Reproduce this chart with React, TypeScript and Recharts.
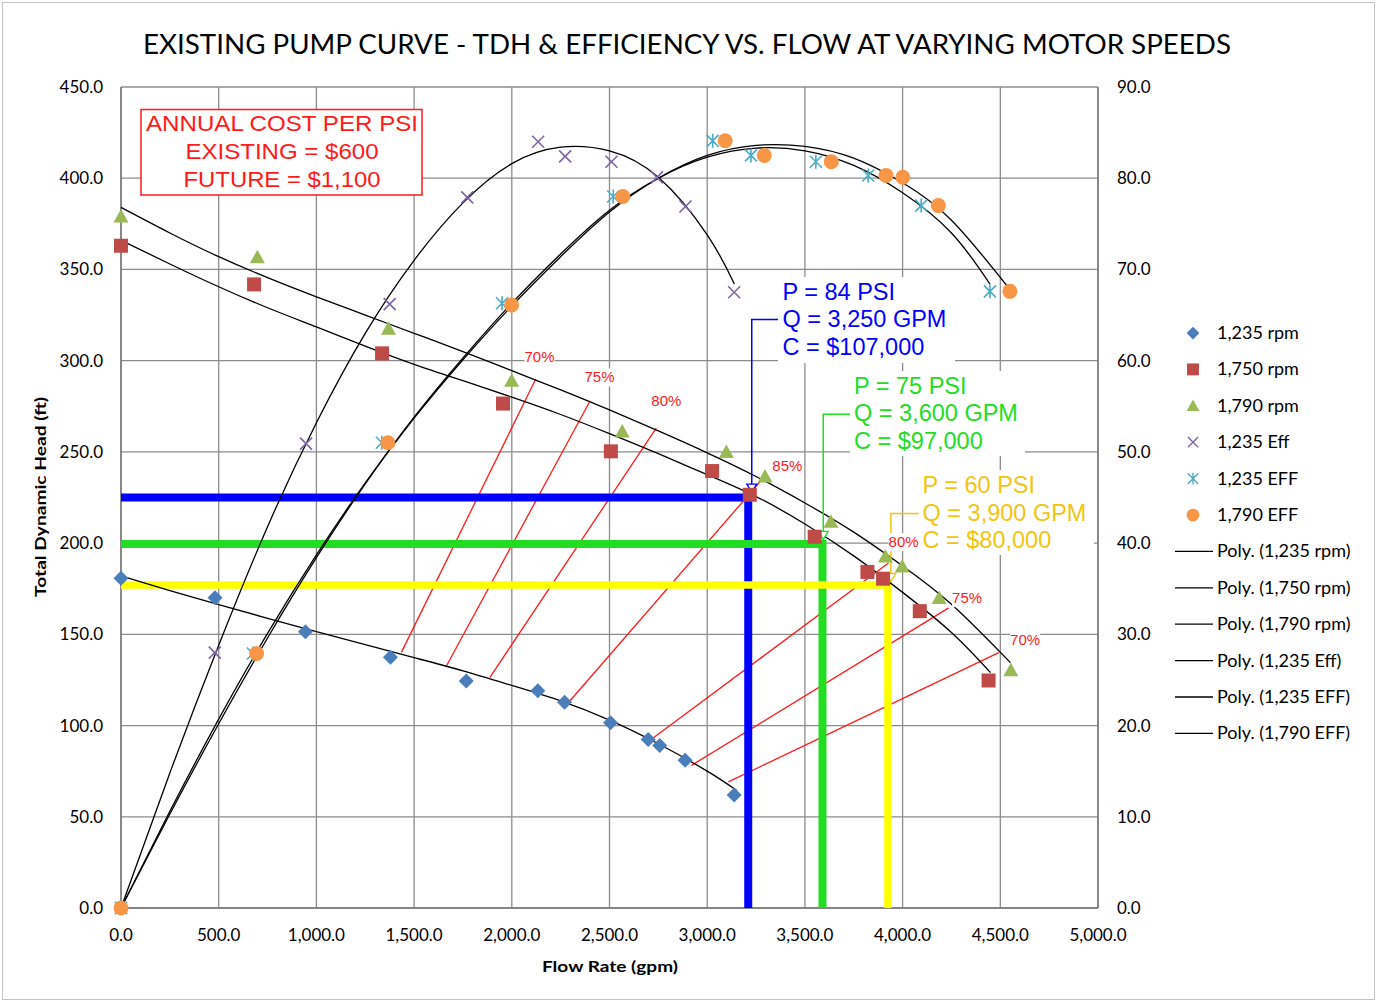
import React from 'react';
import { ScatterChart, Scatter, XAxis, YAxis, CartesianGrid } from 'recharts';

type Pt = { x: number; y: number; t?: string };
const toPts = (a: number[][]): Pt[] => a.map(([x, y]) => ({ x, y }));

const xTicks = [0, 500, 1000, 1500, 2000, 2500, 3000, 3500, 4000, 4500, 5000];
const headTicks = [0, 50, 100, 150, 200, 250, 300, 350, 400, 450];
const effTicks = [0, 10, 20, 30, 40, 50, 60, 70, 80, 90];

// measured pump points: [flow gpm, head ft]
const rpm1235 = [[0, 180.7], [481, 170], [944, 151.4], [1379, 137.4], [1767, 124.4], [2133, 119.1], [2270, 112.8], [2505, 101.5], [2698, 92.3], [2757, 89], [2887, 81], [3138, 62]];
const rpm1750 = [[0, 363], [681, 341.8], [1336, 304], [1955, 276.5], [2507, 250.3], [3025, 239.5], [3218, 226.5], [3550, 203.5], [3820, 184.2], [3900, 180.5], [4088, 162.7], [4440, 124.7]];
const rpm1790 = [[0, 379], [698, 356.7], [1369, 317.5], [1999, 289], [2565, 261.2], [3098, 250], [3296, 236.5], [3633, 211.7], [3912, 192.6], [3998, 187.2], [4187, 169.9], [4554, 130.3]];

// efficiency points: [flow gpm, efficiency %]
const eff1235 = [[0, 0], [480, 28], [947, 50.9], [1375, 66.2], [1772, 77.9], [2135, 84.0], [2273, 82.4], [2510, 81.8], [2743, 80.1], [2889, 76.9], [3138, 67.5]];
const eff1235b = [[0, 0], [675, 27.9], [1335, 51], [1950, 66.3], [2519, 78.0], [3028, 84.1], [3224, 82.5], [3556, 81.8], [3824, 80.3], [4095, 77.0], [4447, 67.6]];
const eff1790 = [[0, 0], [694, 27.9], [1366, 51], [1999, 66.1], [2568, 78.0], [3092, 84.1], [3292, 82.5], [3635, 81.8], [3915, 80.3], [4001, 80.1], [4183, 77.0], [4549, 67.6]];

// trend curves
const poly1235 = [[0, 182], [250, 174], [500, 166.3], [750, 158.8], [1000, 151.5], [1250, 144.3], [1500, 137.2], [1750, 130], [2000, 122], [2250, 113.5], [2500, 103], [2750, 90], [3000, 75], [3150, 64.5]];
const poly1750 = [[0, 366], [250, 353], [500, 340.5], [750, 329], [1000, 318.5], [1250, 308], [1500, 298], [1750, 289], [2000, 280], [2250, 270.5], [2500, 260], [2750, 249], [3000, 237.5], [3250, 225.5], [3500, 210.5], [3750, 193], [4000, 173], [4250, 151], [4450, 129]];
const poly1790 = [[0, 384], [250, 370], [500, 357], [750, 345.5], [1000, 335], [1250, 325], [1500, 315], [1750, 305], [2000, 294.5], [2250, 284], [2500, 273], [2750, 261.5], [3000, 249.5], [3250, 236.5], [3500, 222], [3750, 206], [4000, 187.5], [4250, 166.5], [4552, 134.5]];
const polyEff1235 = [[0, 0], [250, 14.8], [500, 28.8], [750, 41.8], [1000, 53.2], [1250, 63.0], [1500, 71.0], [1750, 77.3], [2000, 81.6], [2250, 83.4], [2500, 83.0], [2750, 80.1], [3000, 73.8], [3139, 68.4]];
const polyEff1235b = [[0, 0], [250, 10.3], [500, 20.2], [750, 29.6], [1000, 38.4], [1250, 46.5], [1500, 53.8], [1750, 60.3], [2000, 66.3], [2250, 71.7], [2500, 76.5], [2750, 80.0], [3000, 82.3], [3250, 83.3], [3500, 83.0], [3750, 81.4], [4000, 78.4], [4250, 74.0], [4447, 68.4]];
const polyEff1790 = [[0, 0], [250, 10.6], [500, 20.7], [750, 30.1], [1000, 38.7], [1250, 46.6], [1500, 53.7], [1750, 60.1], [2000, 66.0], [2250, 71.4], [2500, 76.3], [2750, 80.0], [3000, 82.5], [3250, 83.6], [3500, 83.5], [3750, 82.2], [4000, 79.5], [4250, 75.4], [4549, 67.8]];

// iso-efficiency lines: [flow, head] start and end
const isoLines = [
  [[1435, 140.1], [2122, 289.8]],
  [[1666, 132.8], [2401, 278]],
  [[1888, 126.4], [2739, 263]],
  [[2298, 113.6], [3281, 234.9]],
  [[2706, 91.8], [3928, 189.1]],
  [[2920, 78.2], [4236, 164.5]],
  [[3108, 69.1], [4492, 140]],
];
const isoLabels: Pt[] = [
  { x: 2142, y: 301.8, t: '70%' },
  { x: 2449, y: 290.8, t: '75%' },
  { x: 2791, y: 277.7, t: '80%' },
  { x: 3410, y: 242.1, t: '85%' },
  { x: 4005, y: 200.6, t: '80%' },
  { x: 4330, y: 169.8, t: '75%' },
  { x: 4627, y: 146.8, t: '70%' },
];

// operating points
const blueOp = [[0, 225], [3210, 225], [3210, 0]];
const greenOp = [[0, 199.5], [3590, 199.5], [3590, 0]];
const yellowOp = [[0, 177], [3925, 177], [3925, 0]];
const blueLeader = [[3367, 322.5], [3228, 322.5], [3228, 232]];
const greenLeader = [[3736, 270.6], [3594, 270.6], [3594, 206]];
const yellowLeader = [[4083, 216.2], [3940, 216.2], [3940, 183]];
const blueTip = [[3228, 228]];
const greenTip = [[3594, 202]];
const yellowTip = [[3940, 179]];

const BLUE = '#0000ff';
const GREEN = '#22dd22';
const YELLOW = '#f2c511';
const RED = '#ff1a1a';

const fmt = (v: number) => v.toLocaleString('en-US', { minimumFractionDigits: 1, maximumFractionDigits: 1 });

const Diamond = (p: any) => (
  <path d={`M${p.cx},${p.cy - 7.5}L${p.cx + 7.5},${p.cy}L${p.cx},${p.cy + 7.5}L${p.cx - 7.5},${p.cy}Z`} fill="#4a7ebb" />
);
const Square = (p: any) => <rect x={p.cx - 7} y={p.cy - 7} width={14} height={14} fill="#be4b48" />;
const Tri = (p: any) => (
  <path d={`M${p.cx},${p.cy - 7.5}L${p.cx + 7.5},${p.cy + 6}L${p.cx - 7.5},${p.cy + 6}Z`} fill="#98b954" />
);
const XMark = (p: any) => (
  <path d={`M${p.cx - 6},${p.cy - 6}L${p.cx + 6},${p.cy + 6}M${p.cx - 6},${p.cy + 6}L${p.cx + 6},${p.cy - 6}`} stroke="#7e64a3" strokeWidth={1.6} />
);
const Star = (p: any) => (
  <path
    d={`M${p.cx - 6},${p.cy - 6}L${p.cx + 6},${p.cy + 6}M${p.cx - 6},${p.cy + 6}L${p.cx + 6},${p.cy - 6}M${p.cx},${p.cy - 7}L${p.cx},${p.cy + 7}`}
    stroke="#4bacc6"
    strokeWidth={1.6}
  />
);
const Dot = (p: any) => <circle cx={p.cx} cy={p.cy} r={7.5} fill="#f79646" />;
const Nothing = () => <g />;
const tipShape = (color: string) => (p: any) => (
  <path d={`M${p.cx - 5},${p.cy - 8}L${p.cx + 5},${p.cy - 8}L${p.cx},${p.cy}Z`} fill="#fff" stroke={color} strokeWidth={1.3} />
);
const PctLabel = (p: any) => (
  <g>
    <rect x={p.cx - 15} y={p.cy - 9} width={30} height={18} fill="#fff" />
    <text x={p.cx} y={p.cy + 5} textAnchor="middle" fontSize={15} fill={RED} fontFamily="Liberation Sans, Arial">
      {p.payload.t}
    </text>
  </g>
);

const legendItems: { name: string; kind: string }[] = [
  { name: '1,235 rpm', kind: 'diamond' },
  { name: '1,750 rpm', kind: 'square' },
  { name: '1,790 rpm', kind: 'tri' },
  { name: '1,235 Eff', kind: 'x' },
  { name: '1,235 EFF', kind: 'star' },
  { name: '1,790 EFF', kind: 'dot' },
  { name: 'Poly. (1,235 rpm)', kind: 'line' },
  { name: 'Poly. (1,750 rpm)', kind: 'line' },
  { name: 'Poly. (1,790 rpm)', kind: 'line' },
  { name: 'Poly. (1,235 Eff)', kind: 'line' },
  { name: 'Poly. (1,235 EFF)', kind: 'line' },
  { name: 'Poly. (1,790 EFF)', kind: 'line' },
];

function LegendIcon({ kind, cx, cy }: { kind: string; cx: number; cy: number }) {
  const s = 0.85;
  if (kind === 'line') return <line x1={1175} x2={1213} y1={cy} y2={cy} stroke="#000" strokeWidth={1.3} />;
  const p = { cx, cy };
  const node =
    kind === 'diamond' ? Diamond(p) : kind === 'square' ? Square(p) : kind === 'tri' ? Tri(p) : kind === 'x' ? XMark(p) : kind === 'star' ? Star(p) : Dot(p);
  return <g transform={`translate(${cx * (1 - s)},${cy * (1 - s)}) scale(${s})`}>{node}</g>;
}

const textBlock = (x: number, y: number, lines: string[], color: string, box: [number, number, number, number]) => (
  <g>
    <rect x={box[0]} y={box[1]} width={box[2]} height={box[3]} fill="#fff" />
    {lines.map((l, i) => (
      <text key={i} x={x} y={y + i * 27.5} fontSize={23.5} fill={color} fontFamily="Liberation Sans, Arial">
        {l}
      </text>
    ))}
  </g>
);

export default function App() {
  const curve = (data: number[][], axis: string, key: string) => (
    <Scatter
      key={key}
      data={toPts(data)}
      yAxisId={axis}
      shape={Nothing}
      line={{ stroke: '#000', strokeWidth: 1.3 }}
      lineJointType="natural"
      isAnimationActive={false}
    />
  );
  const seg = (data: number[][], color: string, width: number, key: string) => (
    <Scatter
      key={key}
      data={toPts(data)}
      yAxisId="head"
      shape={Nothing}
      line={{ stroke: color, strokeWidth: width, strokeLinejoin: 'miter' }}
      lineJointType="linear"
      isAnimationActive={false}
    />
  );
  const tick = { fontSize: 17, fill: '#000', fontFamily: 'Lato' };

  return (
    <div style={{ position: 'absolute', left: 0, top: 0, width: 1377, height: 1002, background: '#fff' }}>
      <div style={{ position: 'absolute', left: 2, top: 2, width: 1371, height: 996, border: '1px solid #c4c4c4' }} />
      <ScatterChart width={1377} height={1002} margin={{ top: 87, right: 209, bottom: 64, left: 51 }}>
        <CartesianGrid yAxisId="head" stroke="#8c8c8c" strokeWidth={1.3} />
        <XAxis
          type="number"
          dataKey="x"
          domain={[0, 5000]}
          ticks={xTicks}
          interval={0}
          tickFormatter={fmt}
          tickLine={false}
          tickSize={0}
          tickMargin={21}
          height={30}
          axisLine={{ stroke: '#7a7a7a', strokeWidth: 1.5 }}
          tick={tick}
        />
        <YAxis
          yAxisId="head"
          type="number"
          dataKey="y"
          domain={[0, 450]}
          ticks={headTicks}
          interval={0}
          tickFormatter={fmt}
          tickLine={false}
          tickSize={0}
          tickMargin={18}
          width={70}
          axisLine={{ stroke: '#7a7a7a', strokeWidth: 1.5 }}
          tick={tick}
        />
        <YAxis
          yAxisId="eff"
          orientation="right"
          type="number"
          dataKey="y"
          domain={[0, 90]}
          ticks={effTicks}
          interval={0}
          tickFormatter={fmt}
          tickLine={false}
          tickSize={0}
          tickMargin={19}
          width={70}
          axisLine={{ stroke: '#7a7a7a', strokeWidth: 1.5 }}
          tick={tick}
        />

        {isoLines.map((l, i) => seg(l, RED, 1.3, `iso${i}`))}
        {seg(blueOp, BLUE, 8, 'bop')}
        {seg(greenOp, GREEN, 8, 'gop')}
        {seg(yellowOp, '#ffff00', 7.5, 'yop')}

        {curve(poly1235, 'head', 'p1')}
        {curve(poly1750, 'head', 'p2')}
        {curve(poly1790, 'head', 'p3')}
        {curve(polyEff1235, 'eff', 'p4')}
        {curve(polyEff1235b, 'eff', 'p5')}
        {curve(polyEff1790, 'eff', 'p6')}

        {seg(blueLeader, BLUE, 1.5, 'bl')}
        {seg(greenLeader, GREEN, 1.5, 'gl')}
        {seg(yellowLeader, YELLOW, 1.5, 'yl')}
        <Scatter data={toPts(blueTip)} yAxisId="head" shape={tipShape(BLUE)} isAnimationActive={false} />
        <Scatter data={toPts(greenTip)} yAxisId="head" shape={tipShape(GREEN)} isAnimationActive={false} />
        <Scatter data={toPts(yellowTip)} yAxisId="head" shape={tipShape(YELLOW)} isAnimationActive={false} />

        <Scatter name="1,235 rpm" data={toPts(rpm1235)} yAxisId="head" shape={Diamond} isAnimationActive={false} />
        <Scatter name="1,750 rpm" data={toPts(rpm1750)} yAxisId="head" shape={Square} isAnimationActive={false} />
        <Scatter name="1,790 rpm" data={toPts(rpm1790)} yAxisId="head" shape={Tri} isAnimationActive={false} />
        <Scatter name="1,235 Eff" data={toPts(eff1235)} yAxisId="eff" shape={XMark} isAnimationActive={false} />
        <Scatter name="1,235 EFF" data={toPts(eff1235b)} yAxisId="eff" shape={Star} isAnimationActive={false} />
        <Scatter name="1,790 EFF" data={toPts(eff1790)} yAxisId="eff" shape={Dot} isAnimationActive={false} />

        <Scatter data={isoLabels} yAxisId="head" shape={PctLabel} isAnimationActive={false} />
      </ScatterChart>

      <svg width={1377} height={1002} style={{ position: 'absolute', left: 0, top: 0, pointerEvents: 'none' }}>
        <text x={687} y={53.5} textAnchor="middle" fontFamily="Lato" fontSize={26} textLength={1088} lengthAdjust="spacingAndGlyphs">
          EXISTING PUMP CURVE - TDH &amp; EFFICIENCY VS. FLOW AT VARYING MOTOR SPEEDS
        </text>
        <text
          transform="translate(46,497) rotate(-90)"
          textAnchor="middle"
          fontFamily="Lato"
          fontWeight="bold"
          fontSize={16}
          textLength={200}
          lengthAdjust="spacingAndGlyphs"
        >
          Total Dynamic Head (ft)
        </text>
        <text x={610} y={972} textAnchor="middle" fontFamily="Lato" fontWeight="bold" fontSize={16} textLength={136} lengthAdjust="spacingAndGlyphs">
          Flow Rate (gpm)
        </text>

        <rect x={141} y={109.5} width={281} height={85.5} fill="#fff" stroke={RED} strokeWidth={1.5} />
        <g fontFamily="Liberation Sans, Arial" fontSize={22.5} fill={RED} textAnchor="middle">
          <text x={282} y={131} textLength={272} lengthAdjust="spacingAndGlyphs">ANNUAL COST PER PSI</text>
          <text x={282} y={158.5} textLength={193} lengthAdjust="spacingAndGlyphs">EXISTING = $600</text>
          <text x={282} y={186.5} textLength={197} lengthAdjust="spacingAndGlyphs">FUTURE = $1,100</text>
        </g>

        {textBlock(782.5, 299.5, ['P = 84 PSI', 'Q = 3,250 GPM', 'C = $107,000'], BLUE, [778, 277, 177, 86])}
        {textBlock(854, 393.5, ['P = 75 PSI', 'Q = 3,600 GPM', 'C = $97,000'], GREEN, [850, 371, 175, 85])}
        {textBlock(922.5, 493, ['P = 60 PSI', 'Q = 3,900 GPM', 'C = $80,000'], YELLOW, [919, 470, 175, 85])}

        {legendItems.map((it, i) => {
          const cy = 333 + i * 36.4;
          return (
            <g key={it.name}>
              <LegendIcon kind={it.kind} cx={1193} cy={cy} />
              <text x={1217} y={cy + 6} fontFamily="Lato" fontSize={18} fill="#000">
                {it.name}
              </text>
            </g>
          );
        })}
      </svg>
    </div>
  );
}
